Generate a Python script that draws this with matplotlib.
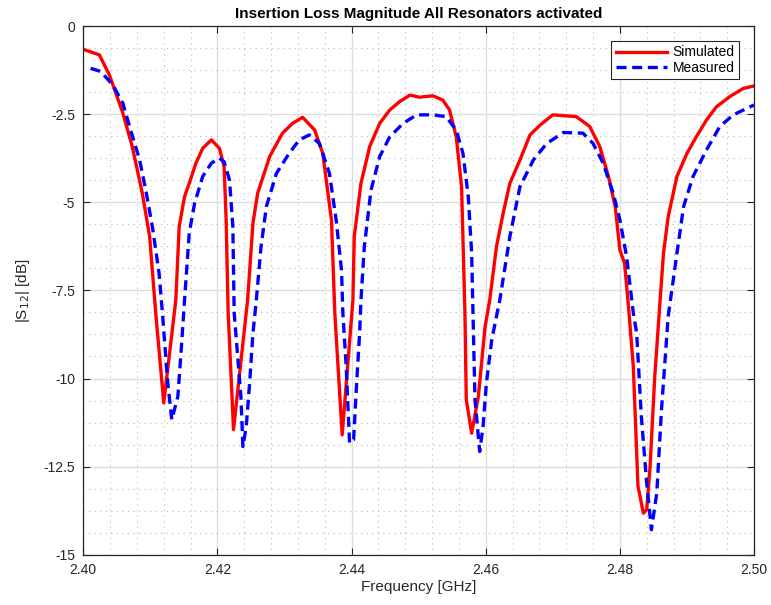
import matplotlib
matplotlib.use("Agg")
import matplotlib.pyplot as plt
from matplotlib.ticker import MultipleLocator, FuncFormatter
import numpy as np

plt.rcParams['font.family'] = ['Liberation Sans', 'DejaVu Sans']

# simulated S12 (GHz, dB)
sim_f = [2.4000, 2.4024, 2.4039, 2.4059, 2.4073, 2.4088, 2.4099, 2.4108, 2.4120,
         2.4138, 2.4143, 2.4151, 2.4158, 2.4168, 2.4178, 2.4191, 2.4203, 2.4210,
         2.4213, 2.4216, 2.4224, 2.4245, 2.4253, 2.4260, 2.4278, 2.4297, 2.4312,
         2.4327, 2.4345, 2.4357, 2.4370, 2.4375, 2.4386, 2.4402, 2.4404, 2.4414,
         2.4427, 2.4442, 2.4457, 2.4472, 2.4487, 2.4501, 2.4521, 2.4536, 2.4546,
         2.4556, 2.4564, 2.4569, 2.4571, 2.4579, 2.4589, 2.4599, 2.4606, 2.4616,
         2.4626, 2.4636, 2.4651, 2.4666, 2.4681, 2.4700, 2.4735, 2.4755, 2.4770,
         2.4783, 2.4793, 2.4800, 2.4807, 2.4813, 2.4820, 2.4827, 2.4835, 2.4840,
         2.4845, 2.4852, 2.4860, 2.4865, 2.4872, 2.4885, 2.4900, 2.4914, 2.4929,
         2.4944, 2.4964, 2.4984, 2.5000]
sim_db = [-0.66, -0.82, -1.39, -2.47, -3.42, -4.74, -5.98, -8.14, -10.69,
          -7.77, -5.69, -4.84, -4.46, -3.89, -3.47, -3.23, -3.47, -3.99,
          -5.50, -8.14, -11.45, -7.77, -5.59, -4.74, -3.70, -3.04, -2.76,
          -2.59, -2.95, -3.61, -5.50, -8.14, -11.60, -7.77, -5.97, -4.46,
          -3.42, -2.76, -2.38, -2.14, -1.96, -2.02, -1.98, -2.10, -2.38,
          -3.14, -4.56, -8.14, -10.60, -11.55, -10.51, -8.53, -7.77, -6.26,
          -5.31, -4.46, -3.80, -3.09, -2.81, -2.52, -2.57, -2.85, -3.42,
          -4.27, -5.12, -6.35, -6.73, -8.00, -9.66, -13.06, -13.82, -13.72,
          -12.50, -9.94, -7.77, -6.45, -5.41, -4.27, -3.61, -3.14, -2.67,
          -2.29, -2.00, -1.77, -1.70]

# measured S12 (GHz, dB)
meas_f = [2.4011, 2.4026, 2.4044, 2.4059, 2.4069, 2.4084, 2.4094, 2.4103, 2.4113,
          2.4118, 2.4126, 2.4132, 2.4141, 2.4146, 2.4151, 2.4158, 2.4166, 2.4178,
          2.4191, 2.4203, 2.4210, 2.4218, 2.4223, 2.4225, 2.4235, 2.4238, 2.4243,
          2.4248, 2.4253, 2.4258, 2.4265, 2.4273, 2.4288, 2.4307, 2.4322, 2.4337,
          2.4352, 2.4367, 2.4377, 2.4385, 2.4387, 2.4392, 2.4397, 2.4403, 2.4407,
          2.4412, 2.4414, 2.4419, 2.4429, 2.4442, 2.4457, 2.4477, 2.4497, 2.4521,
          2.4541, 2.4556, 2.4566, 2.4574, 2.4579, 2.4581, 2.4584, 2.4591, 2.4596,
          2.4601, 2.4609, 2.4621, 2.4636, 2.4651, 2.4671, 2.4691, 2.4716, 2.4745,
          2.4760, 2.4775, 2.4790, 2.4800, 2.4810, 2.4820, 2.4825, 2.4832, 2.4840,
          2.4847, 2.4855, 2.4862, 2.4872, 2.4885, 2.4895, 2.4909, 2.4929, 2.4949,
          2.4969, 2.5000]
meas_db = [-1.20, -1.29, -1.67, -2.19, -2.85, -3.80, -4.74, -5.69, -7.01,
           -8.14, -10.13, -11.17, -10.51, -9.19, -7.77, -5.87, -5.03, -4.27,
           -3.89, -3.75, -3.85, -4.37, -5.69, -8.14, -10.51, -11.93, -11.36,
           -10.13, -8.71, -7.77, -6.26, -5.12, -4.18, -3.61, -3.23, -3.09,
           -3.33, -4.18, -5.50, -6.92, -8.14, -9.66, -11.83, -11.74, -10.32,
           -8.71, -7.77, -6.26, -4.65, -3.70, -3.14, -2.76, -2.52, -2.52,
           -2.57, -2.95, -3.61, -4.84, -6.45, -8.14, -10.60, -12.07, -11.36,
           -10.13, -8.90, -7.77, -5.97, -4.56, -3.80, -3.33, -3.02, -3.04,
           -3.33, -3.89, -4.74, -5.50, -6.54, -8.14, -8.71, -11.08, -12.97,
           -14.29, -13.25, -10.89, -8.24, -6.45, -5.12, -4.27, -3.52, -2.85,
           -2.52, -2.24]

fig = plt.figure(figsize=(7.71, 6.05), dpi=100)
ax = fig.add_axes([0.108, 0.083, 0.870, 0.874])

ax.plot(sim_f, sim_db, color='red', lw=2.4, label='Simulated')
ax.plot(meas_f, meas_db, color='blue', lw=2.4, dashes=(3.0, 1.7), label='Measured')

ax.set_xlim(2.40, 2.50)
ax.set_ylim(-15, 0)
ax.xaxis.set_major_locator(MultipleLocator(0.02))
ax.xaxis.set_minor_locator(MultipleLocator(0.004))
ax.yaxis.set_major_locator(MultipleLocator(2.5))
ax.yaxis.set_minor_locator(MultipleLocator(0.625))
ax.xaxis.set_major_formatter(FuncFormatter(lambda v, p: '%.2f' % v))
ax.yaxis.set_major_formatter(FuncFormatter(lambda v, p: '%g' % v))

ax.grid(which='major', color='#dedede', lw=1.0, ls='-')
ax.grid(which='minor', color='#b8b8b8', lw=0.8, ls=(0, (1, 4)))
ax.set_axisbelow(True)
ax.tick_params(which='both', direction='in', top=True, right=True,
               labelsize=10, labelcolor='#262626')
ax.tick_params(which='major', length=5, width=0.8, color='#262626')
ax.tick_params(axis='x', pad=6)
ax.tick_params(axis='y', pad=6)
ax.tick_params(which='minor', length=0)
for s in ax.spines.values():
    s.set_color('#262626')
    s.set_linewidth(0.9)

ax.set_title('Insertion Loss Magnitude All Resonators activated', fontsize=11,
             fontweight='bold', pad=6)
ax.set_xlabel('Frequency [GHz]', fontsize=11, labelpad=2, color='#262626')
ax.set_ylabel('|S$_{12}$| [dB]', fontsize=11, labelpad=8, color='#262626')

leg = ax.legend(loc='upper right', fontsize=10, fancybox=False, framealpha=1,
                edgecolor='#262626', handlelength=3.7, borderpad=0.3,
                labelspacing=0.1, handletextpad=0.4, borderaxespad=1.1)
leg.get_frame().set_linewidth(0.8)

fig.savefig('out.png', dpi=100)
